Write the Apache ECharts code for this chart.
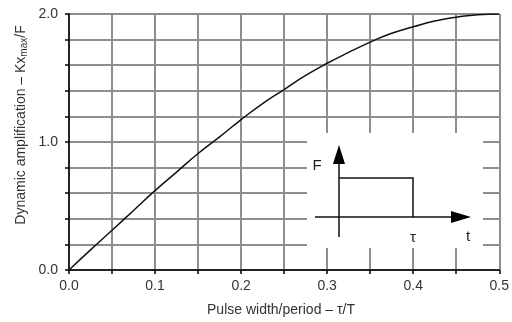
<!DOCTYPE html>
<html lang="en">
<head>
    <meta charset="UTF-8">
    <title>Dynamic amplification</title>
    <style>
        * { margin: 0; padding: 0; }
        html, body { width: 100%; height: 100%; background: #fff; }
        #main { width: 512px; height: 322px; }
    </style>
    <script src="https://cdn.jsdelivr.net/npm/echarts@6/dist/echarts.min.js"></script>
</head>
<body>
    <div id="main"></div>
<script>
    // pulse width / period (tau/T)
    var ratio = [0, 0.025, 0.05, 0.075, 0.1, 0.125, 0.15, 0.175, 0.2, 0.225, 0.25,
                 0.275, 0.3, 0.325, 0.35, 0.375, 0.4, 0.425, 0.45, 0.475, 0.5];
    // dynamic amplification Kx_max/F
    var amplification = [0, 0.157, 0.31, 0.465, 0.62, 0.765, 0.91, 1.04, 1.175, 1.30, 1.41,
                         1.52, 1.615, 1.70, 1.78, 1.85, 1.90, 1.945, 1.975, 1.995, 2.0];
    var xLabels = ['0.0', '0.1', '0.2', '0.3', '0.4', '0.5'];
    var yLabels = ['0.0', '1.0', '2.0'];

    var font = 'Liberation Sans';
    var gridColor = '#8e8e8e';

    function pickLabel(list) {
        return function (v) {
            var s = v.toFixed(1);
            return (Math.abs(v - Math.round(v * 10) / 10) < 1e-6 && list.indexOf(s) >= 0) ? s : '';
        };
    }

    function initEchart() {
        var points = ratio.map(function (r, i) { return [r, amplification[i]]; });
        var Z = 100;
        var option = {
            animation: false,
            grid: { left: 69, right: 10, top: 14, bottom: 52 },
            xAxis: {
                type: 'value',
                min: 0, max: 0.5, interval: 0.05,
                axisLine: { show: true, lineStyle: { color: '#000', width: 1.5 } },
                axisTick: { show: true, length: 4, lineStyle: { color: '#000', width: 1.5 } },
                axisLabel: {
                    formatter: pickLabel(xLabels),
                    color: '#333', fontFamily: font, fontSize: 14, margin: 9
                },
                splitLine: { show: true, lineStyle: { color: gridColor, width: 2 } }
            },
            yAxis: {
                type: 'value',
                min: 0, max: 2, interval: 0.2,
                axisLine: { show: true, lineStyle: { color: '#000', width: 1.5 } },
                axisTick: { show: true, length: 4, lineStyle: { color: '#000', width: 1.5 } },
                axisLabel: {
                    formatter: pickLabel(yLabels),
                    color: '#333', fontFamily: font, fontSize: 14, margin: 11
                },
                splitLine: { show: true, lineStyle: { color: gridColor, width: 2 } }
            },
            series: [{
                type: 'line',
                data: points,
                showSymbol: false,
                smooth: true,
                z: 5,
                lineStyle: { color: '#111', width: 1.5 }
            }],
            graphic: [
                // y axis title with subscript
                {
                    type: 'text', x: 21, y: 125, rotation: Math.PI / 2, z: Z,
                    style: {
                        text: '{m|Dynamic amplification – Kx}{s|max}{m|/F}',
                        align: 'center', verticalAlign: 'middle',
                        rich: {
                            m: { fontFamily: font, fontSize: 14, fill: '#333' },
                            s: { fontFamily: font, fontSize: 10, fill: '#333', padding: [7, 0, 0, 0] }
                        }
                    }
                },
                {
                    type: 'text', x: 281, y: 310, z: Z,
                    style: {
                        text: 'Pulse width/period – τ/T',
                        fontFamily: font, fontSize: 14, fill: '#333',
                        align: 'center', verticalAlign: 'middle'
                    }
                },
                // inset: rectangular pulse
                { type: 'rect', z: Z, shape: { x: 307, y: 133, width: 176, height: 115 }, style: { fill: '#fff' } },
                { type: 'line', z: Z + 1, shape: { x1: 339, y1: 162, x2: 339, y2: 237 }, style: { stroke: '#111', lineWidth: 1.5 } },
                { type: 'polygon', z: Z + 1, shape: { points: [[339, 145], [333, 164], [345, 164]] }, style: { fill: '#000' } },
                { type: 'line', z: Z + 1, shape: { x1: 315, y1: 217, x2: 454, y2: 217 }, style: { stroke: '#111', lineWidth: 1.5 } },
                { type: 'polygon', z: Z + 1, shape: { points: [[471, 217], [451, 211], [451, 223]] }, style: { fill: '#000' } },
                { type: 'polyline', z: Z + 1, shape: { points: [[339, 178], [413, 178], [413, 217]] }, style: { stroke: '#111', lineWidth: 1.5, fill: null } },
                { type: 'text', z: Z + 1, x: 317, y: 166, style: { text: 'F', fontFamily: font, fontSize: 15, fill: '#222', align: 'center', verticalAlign: 'middle' } },
                { type: 'text', z: Z + 1, x: 413, y: 238, style: { text: 'τ', fontFamily: font, fontSize: 15, fill: '#222', align: 'center', verticalAlign: 'middle' } },
                { type: 'text', z: Z + 1, x: 468, y: 237, style: { text: 't', fontFamily: font, fontSize: 15, fill: '#222', align: 'center', verticalAlign: 'middle' } }
            ]
        };
        var myChart = echarts.init(document.getElementById('main'));
        myChart.setOption(option);
    }
    initEchart();
</script>
</body>
</html>
